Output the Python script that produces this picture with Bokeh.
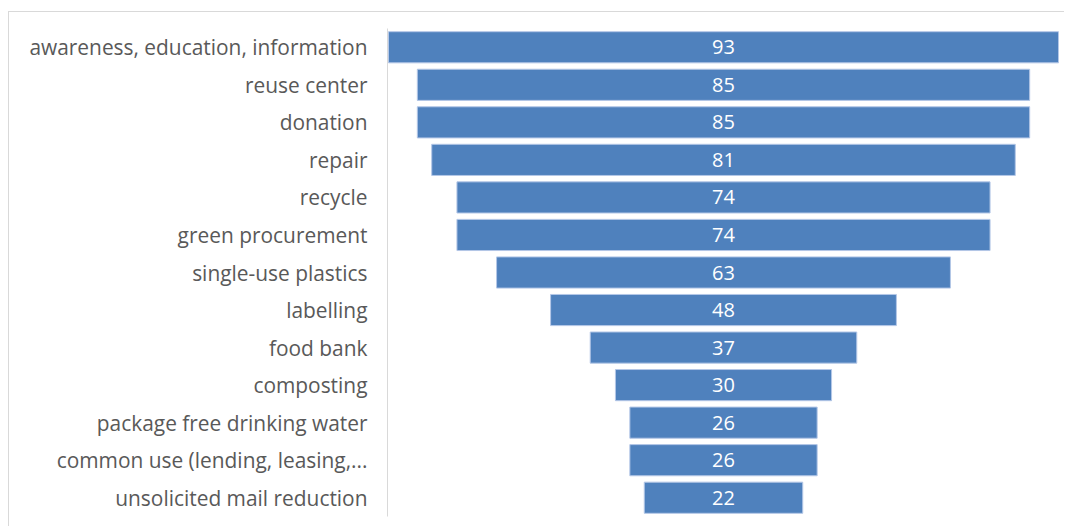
from bokeh.plotting import figure
from bokeh.models import Range1d, FactorRange, ColumnDataSource, LabelSet
from bokeh.core.properties import value
from bokeh.embed import file_html
from bokeh.resources import INLINE

categories = [
    "awareness, education, information",
    "reuse center",
    "donation",
    "repair",
    "recycle",
    "green procurement",
    "single-use plastics",
    "labelling",
    "food bank",
    "composting",
    "package free drinking water",
    "common use (lending, leasing,...",
    "unsolicited mail reduction",
]
values = [93, 85, 85, 81, 74, 74, 63, 48, 37, 30, 26, 26, 22]

src = ColumnDataSource(dict(
    cat=categories,
    left=[-v / 2 for v in values],
    right=[v / 2 for v in values],
    mid=[0] * len(values),
    txt=[str(v) for v in values],
))

half = max(values) / 2 * 672 / 670
p = figure(
    width=1056, height=515,
    y_range=FactorRange(*reversed(categories)),
    x_range=Range1d(-half, half),
    output_backend="svg", toolbar_location=None,
    min_border_left=378, min_border_right=6,
    min_border_top=16, min_border_bottom=11,
    margin=(11, 0, 0, 8),
    styles={"border-top": "1px solid #D9D9D9", "border-left": "1px solid #D9D9D9"},
)
p.hbar(y="cat", left="left", right="right", height=0.83, source=src,
       fill_color="#4F81BD", line_color="#B4C7E7", line_width=1)

labels = LabelSet(x="mid", y="cat", text="txt", source=src,
                  text_align="center", text_baseline="middle",
                  text_color="white", text_font=value("Open Sans"),
                  text_font_size="20px")
p.add_layout(labels)

p.xaxis.visible = False
p.xgrid.visible = False
p.ygrid.visible = False
p.outline_line_color = None

ax = p.yaxis[0]
ax.axis_line_color = "#D9D9D9"
ax.axis_line_width = 1
ax.major_tick_line_color = None
ax.minor_tick_line_color = None
ax.major_label_standoff = 14
ax.major_label_text_font = "Open Sans"
ax.major_label_text_font_size = "20.9px"
ax.major_label_text_color = "#595959"

open("out.html", "w").write(file_html(p, INLINE))
